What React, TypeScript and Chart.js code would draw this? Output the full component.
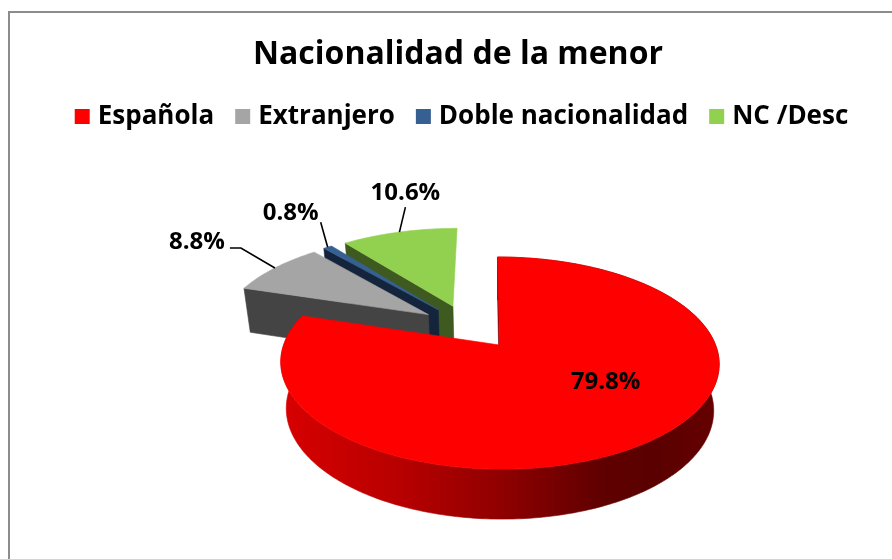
import React, { useEffect, useRef } from "react";
import { Chart, registerables } from "chart.js";

Chart.register(...registerables);

const categories = ["Española", "Extranjero", "Doble nacionalidad", "NC /Desc"];
const shares = [79.8, 8.8, 0.8, 10.6];
const topColors = ["#ff0000", "#a5a5a5", "#376092", "#92d050"];
const wallColors = ["#7a0000", "#444444", "#14243c", "#3f5a20"];
const sliceNudgeX = [0, -3, -3, -3];
const labelShift = [[21, -17], [-78, -26], [-37, -34], [6, -39]];
const redWallStops: [number, string][] = [
  [0, "#d80000"], [0.27, "#b80000"], [0.5, "#900000"], [0.73, "#600000"], [0.85, "#5a0000"], [1, "#660000"],
];
const FONT = "'Open Sans'";
const EXPLOSION = 0.23;

// Perspective of the pie plane: the 3D look is a projective map of the flat pie.
const P = { cx: 499.5, cy: 345, A: 216, B: 103, k: -0.17, shiftU: -0.136, shiftV: -0.185, xBase: 0.975, d0: 45.9, d1: 3.4 };

const top = (u: number, v: number, nudge = 0) => {
  const vv = v + P.shiftV, uu = u + P.shiftU, D = 1 + P.k * vv;
  return [P.cx + nudge + (P.A * uu + 2.3 * vv) / D, P.cy + (P.B * vv) / D];
};
const bottom = (u: number, v: number, nudge = 0) => {
  const vv = v + P.shiftV, uu = u + P.shiftU, D = 1 + P.k * vv, w = vv / D;
  return [P.cx + nudge + (P.xBase * (P.A * uu + 2.3 * vv)) / D, P.cy + P.d0 + (P.B + P.d1) * w];
};

const sliceGeom = (el: any) => {
  const mid = (el.startAngle + el.endAngle) / 2;
  return { mid, ou: Math.cos(mid) * EXPLOSION, ov: Math.sin(mid) * EXPLOSION };
};

const poly = (ctx: CanvasRenderingContext2D, pts: number[][], fill: string | CanvasGradient) => {
  ctx.beginPath();
  pts.forEach((p, i) => (i ? ctx.lineTo(p[0], p[1]) : ctx.moveTo(p[0], p[1])));
  ctx.closePath();
  ctx.fillStyle = fill;
  ctx.strokeStyle = fill;
  ctx.lineWidth = 0.6;
  ctx.fill();
  ctx.stroke();
};

const pie3d = {
  id: "pie3d",
  afterLayout(chart: any) {
    chart.legend.left += 6;
    chart.legend.right += 6;
  },
  beforeDatasetDraw(chart: any) {
    const ctx: CanvasRenderingContext2D = chart.ctx;
    const arcs = chart.getDatasetMeta(0).data;
    const order = [3, 2, 1, 0];
    for (const i of order) {
      const el = arcs[i];
      const { ou, ov } = sliceGeom(el);
      const nudge = sliceNudgeX[i];
      const T = (p: number[]) => top(p[0], p[1], nudge);
      const Bt = (p: number[]) => bottom(p[0], p[1], nudge);
      const n = Math.max(2, Math.ceil(((el.endAngle - el.startAngle) * 180) / Math.PI));
      const rim: number[][] = [];
      for (let s = 0; s <= n; s++) {
        const a = el.startAngle + ((el.endAngle - el.startAngle) * s) / n;
        rim.push([ou + Math.cos(a), ov + Math.sin(a)]);
      }
      const apex = [ou, ov];
      const wall = wallColors[i];
      // radial wall on the side that faces the viewer
      poly(ctx, [T(apex), T(rim[0]), Bt(rim[0]), Bt(apex)], wall);
      // curved wall: only the red slice shows one, the others turn it away
      if (i === 0) {
        const g = ctx.createLinearGradient(281, 0, 720, 0);
        redWallStops.forEach(([o, c]) => g.addColorStop(o, c));
        poly(ctx, [...rim.map(T), ...rim.slice().reverse().map(Bt)], g);
      }
      // top face
      poly(ctx, [T(apex), ...rim.map(T)], topColors[i]);
    }
    // labels and leader lines
    ctx.font = `700 24px ${FONT}`;
    ctx.textAlign = "center";
    ctx.textBaseline = "middle";
    arcs.forEach((el: any, i: number) => {
      const { mid, ou, ov } = sliceGeom(el);
      const rr = i === 0 ? 0.6 : 1;
      const a = top(ou + rr * Math.cos(mid), ov + rr * Math.sin(mid), sliceNudgeX[i]);
      const lx = a[0] + labelShift[i][0], ly = a[1] + labelShift[i][1];
      if (i > 0) {
        ctx.beginPath();
        ctx.moveTo(a[0], a[1]);
        if (i === 1) {
          ctx.lineTo(lx + 44, ly + 6);
          ctx.lineTo(lx + 33, ly + 6);
        } else {
          ctx.lineTo(lx + (i === 2 ? 30 : 0), ly + (i === 2 ? 9 : 14));
        }
        ctx.strokeStyle = "#000";
        ctx.lineWidth = 1.6;
        ctx.stroke();
      }
      ctx.fillStyle = "#000";
      ctx.fillText(`${shares[i].toFixed(1)}%`, lx, ly);
    });
    return false;
  },
};

export default function App() {
  const ref = useRef<HTMLCanvasElement>(null);
  useEffect(() => {
    const chart = new Chart(ref.current!, {
      type: "pie",
      data: {
        labels: categories,
        datasets: [{ data: shares, backgroundColor: topColors, borderWidth: 0, offset: 30 }],
      },
      plugins: [pie3d],
      options: {
        animation: false,
        responsive: false,
        layout: { padding: { left: 24, top: 36, bottom: 10 } },
        plugins: {
          tooltip: { enabled: false },
          title: {
            display: true,
            text: "Nacionalidad de la menor",
            color: "#000",
            font: { family: "Open Sans", size: 32, weight: "bold" },
            padding: { top: 0, bottom: 3 },
          },
          legend: {
            position: "top",
            labels: {
              color: "#000",
              font: { family: "Open Sans", size: 26, weight: "bold" },
              boxWidth: 5,
              boxHeight: 5,
              padding: 26,
              generateLabels: () =>
                categories.map((t, i) => ({
                  text: t,
                  fillStyle: topColors[i],
                  strokeStyle: topColors[i],
                  lineWidth: 10,
                  index: i,
                  datasetIndex: 0,
                  fontColor: "#000",
                })),
            },
          },
        },
      },
    } as any);
    return () => chart.destroy();
  }, []);
  return (
    <div style={{ position: "fixed", left: 0, top: 0, width: 892, height: 559, background: "#fff", overflow: "hidden" }}>
      <div style={{ position: "absolute", left: 8, top: 11, width: 900, height: 560, borderLeft: "2px solid #8c8c8c", borderTop: "2px solid #8c8c8c" }} />
      <canvas ref={ref} width={892} height={559} style={{ position: "absolute", left: 0, top: 0, display: "block" }} />
    </div>
  );
}
